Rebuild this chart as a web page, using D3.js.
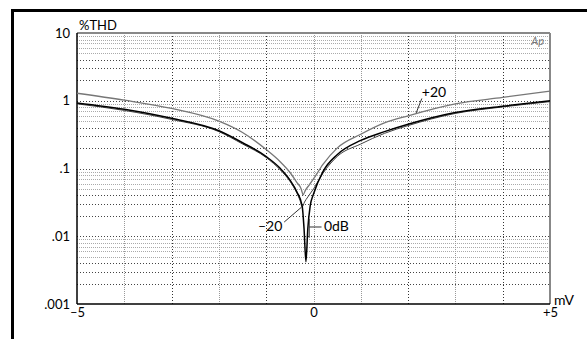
<!DOCTYPE html>
<html>
<head>
<meta charset="utf-8">
<script src="https://cdn.jsdelivr.net/npm/d3@7"></script>
<style>
  body { margin: 0; background: #fff; }
  svg { display: block; font-family: Lato, "DejaVu Sans", sans-serif; }
</style>
</head>
<body>
<svg id="chart"></svg>
<script>
// THD vs offset, three signal levels
const zeroDbMv  = [-5, -4, -3, -2, -1.5, -1, -0.7, -0.5, -0.35, -0.24, -0.2, -0.16, -0.12, -0.07, 0, 0.2, 0.5, 1, 1.5, 2, 3, 4, 5];
const zeroDbThd = [0.93, 0.75, 0.55, 0.36, 0.24, 0.15, 0.1, 0.068, 0.045, 0.028, 0.013, 0.0042, 0.013, 0.028, 0.042, 0.09, 0.16, 0.26, 0.35, 0.45, 0.67, 0.83, 1.0];

const minus20Mv  = [-5, -4, -3, -2, -1.5, -1, -0.7, -0.5, -0.35, -0.28, -0.24, -0.19, -0.12, 0, 0.2, 0.5, 1, 1.5, 2, 3, 4, 5];
const minus20Thd = [0.9, 0.72, 0.53, 0.35, 0.23, 0.145, 0.095, 0.065, 0.043, 0.033, 0.027, 0.032, 0.038, 0.05, 0.085, 0.15, 0.23, 0.33, 0.43, 0.65, 0.81, 0.97];

const plus20Mv  = [-5, -4, -3, -2, -1.5, -1, -0.7, -0.5, -0.35, -0.26, -0.22, -0.17, -0.1, 0, 0.2, 0.5, 1, 1.5, 2, 3, 4, 5];
const plus20Thd = [1.29, 1.02, 0.77, 0.5, 0.34, 0.19, 0.125, 0.088, 0.062, 0.05, 0.041, 0.048, 0.056, 0.07, 0.115, 0.2, 0.32, 0.47, 0.6, 0.9, 1.12, 1.39];

const yTicks = [0.001, 0.01, 0.1, 1, 10];
const yTickLabels = [".001", ".01", ".1", "1", "10"];
const xTicks = [-5, 0, 5];
const xTickLabels = ["\u20135", "0", "+5"];

const W = 587, H = 339;
const m = {left: 77, right: 37, top: 33, bottom: 35};

const svg = d3.select("#chart").attr("width", W).attr("height", H);

// outer frame (only top and left edges are inside the picture)
svg.append("rect")
    .attr("x", 12.5).attr("y", 10.5)
    .attr("width", 700).attr("height", 500)
    .attr("fill", "none").attr("stroke", "#000").attr("stroke-width", 3);

const x = d3.scaleLinear().domain([-5, 5]).range([m.left, W - m.right]);
const y = d3.scaleLog().domain([0.001, 10]).range([H - m.bottom, m.top]);

// horizontal grid
let hLines = [];
for (let dec = 0.001; dec < 10; dec *= 10) {
    for (let k = 1; k <= 9; k++) {
        let v = +(dec * k).toPrecision(3);
        if (v > 0.001) hLines.push(v);
    }
}
const mantissa = d => Math.round(d / Math.pow(10, Math.floor(Math.log10(d) + 1e-9)));
svg.append("g").selectAll("line")
    .data(hLines)
    .join("line")
    .attr("x1", x(-5)).attr("x2", x(5))
    .attr("y1", d => Math.round(y(d)) + 0.5).attr("y2", d => Math.round(y(d)) + 0.5)
    .attr("stroke", d => mantissa(d) >= 5 ? "#aaa" : "#444")
    .attr("stroke-dasharray", d => mantissa(d) >= 5 ? "1,1" : "1,2");

// vertical grid
const grayCols = [-4, -2, 0, 1, 3];
svg.append("g").selectAll("line")
    .data(d3.range(-4, 5))
    .join("line")
    .attr("x1", d => Math.round(x(d)) + 0.5).attr("x2", d => Math.round(x(d)) + 0.5)
    .attr("y1", y(10)).attr("y2", y(0.001))
    .attr("stroke", d => grayCols.includes(d) ? "#999" : "#333")
    .attr("stroke-dasharray", d => grayCols.includes(d) ? "1,1" : "1,2");

// plot frame
svg.append("line").attr("x1", x(-5)).attr("x2", x(5)).attr("y1", y(10)).attr("y2", y(10))
    .attr("stroke", "#888").attr("stroke-width", 2);
svg.append("line").attr("x1", x(5)).attr("x2", x(5)).attr("y1", y(10)).attr("y2", y(0.001))
    .attr("stroke", "#888").attr("stroke-width", 2);
svg.append("line").attr("x1", x(-5)).attr("x2", x(5)).attr("y1", y(0.001)).attr("y2", y(0.001))
    .attr("stroke", "#000").attr("stroke-width", 1.5);
svg.append("line").attr("x1", x(-5)).attr("x2", x(-5)).attr("y1", y(10)).attr("y2", y(0.001))
    .attr("stroke", "#000").attr("stroke-width", 1.5);

// axes labels
const yAxis = svg.append("g")
    .attr("transform", `translate(${m.left - 7},0)`)
    .call(d3.axisLeft(y).tickValues(yTicks).tickSize(0).tickPadding(0)
        .tickFormat((d, i) => yTickLabels[i]));
yAxis.select(".domain").remove();
yAxis.selectAll("text").attr("font-size", 13).attr("font-family", "Lato, sans-serif").attr("fill", "#000");

const xAxis = svg.append("g")
    .attr("transform", `translate(0,${H - m.bottom + 4})`)
    .call(d3.axisBottom(x).tickValues(xTicks).tickSize(0).tickPadding(0)
        .tickFormat((d, i) => xTickLabels[i]));
xAxis.select(".domain").remove();
xAxis.selectAll("text").attr("font-size", 13).attr("font-family", "Lato, sans-serif").attr("fill", "#000");

svg.append("text").attr("x", m.left + 2).attr("y", m.top - 3)
    .attr("font-size", 13).text("%THD");
svg.append("text").attr("x", W - m.right + 4).attr("y", H - m.bottom + 1)
    .attr("font-size", 14).text("mV");
svg.append("text").attr("x", W - m.right - 6).attr("y", m.top + 12)
    .attr("text-anchor", "end").attr("font-size", 11).attr("font-style", "italic")
    .attr("fill", "#777").text("Ap");

// curves
const line = d3.line().x(d => x(d[0])).y(d => y(d[1])).curve(d3.curveMonotoneX);
const series = [
    {name: "+20", xs: plus20Mv, ys: plus20Thd, color: "#777", width: 1.3},
    {name: "-20", xs: minus20Mv, ys: minus20Thd, color: "#444", width: 1},
    {name: "0dB", xs: zeroDbMv, ys: zeroDbThd, color: "#000", width: 1.5}
];
svg.append("g").selectAll("path")
    .data(series)
    .join("path")
    .attr("d", s => line(s.xs.map((v, i) => [v, s.ys[i]])))
    .attr("fill", "none")
    .attr("stroke", s => s.color)
    .attr("stroke-width", s => s.width);

// curve annotations
const ann = svg.append("g").attr("font-size", 14).attr("fill", "#000");
const leader = (x1, y1, x2, y2) => ann.append("line")
    .attr("x1", x(x1)).attr("y1", y(y1)).attr("x2", x(x2)).attr("y2", y(y2))
    .attr("stroke", "#333").attr("stroke-width", 1);

ann.append("text").attr("x", x(2.29)).attr("y", y(1.15)).text("+20");
leader(2.29, 1.08, 2.17, 0.66);

ann.append("text").attr("x", x(-0.66)).attr("y", y(0.0118)).attr("text-anchor", "end").text("\u201320");
leader(-0.62, 0.0162, -0.25, 0.027);

ann.append("text").attr("x", x(0.22)).attr("y", y(0.0118)).text("0dB");
leader(-0.09, 0.018, -0.09, 0.0095);
leader(-0.09, 0.0137, 0.17, 0.0137);
</script>
</body>
</html>
